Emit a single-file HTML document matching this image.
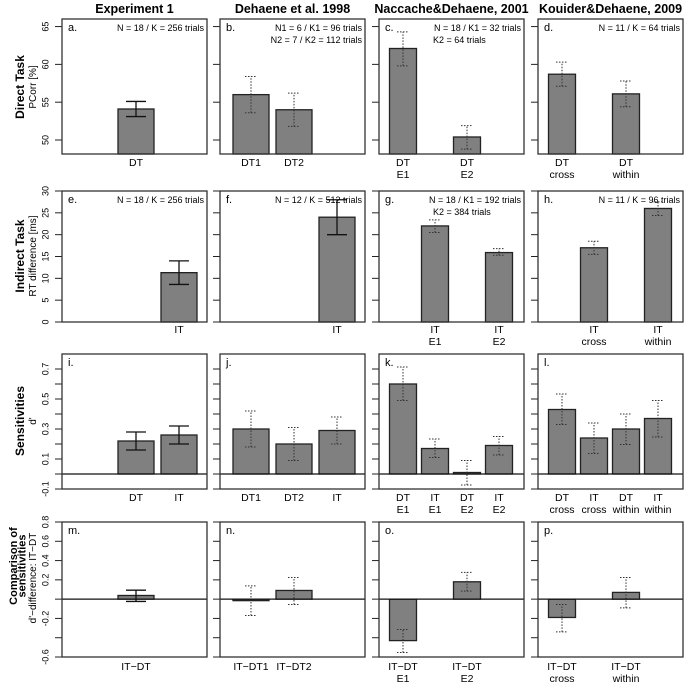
<!DOCTYPE html>
<html><head><meta charset="utf-8"><style>
html,body{margin:0;padding:0;background:#fff;}
svg{display:block;font-family:"Liberation Sans",Arial,sans-serif;}
</style></head><body>
<svg id="fig" width="684" height="682" viewBox="0 0 684 682"></svg>
<script>
// ---- data (top level) ----
const colTitles = ["Experiment 1","Dehaene et al. 1998","Naccache&Dehaene, 2001","Kouider&Dehaene, 2009"];
const rowTitles = [["Direct Task"],["Indirect Task"],["Sensitivities"],["Comparison of","sensitivities"]];
const axisTitles = ["PCorr [%]","RT difference [ms]","d'","d'\u2212difference: IT\u2212DT"];
const row1Ticks = [50,55,60,65];
const row1TickLabels = ["50","55","60","65"];
const row2Ticks = [0,5,10,15,20,25,30];
const row2TickLabels = ["0","5","10","15","20","25","30"];
const row3Ticks = [-0.1,0,0.1,0.2,0.3,0.4,0.5,0.6,0.7];
const row3TickLabels = ["-0.1","","0.1","","0.3","","0.5","","0.7"];
const row4Ticks = [-0.6,-0.4,-0.2,0,0.2,0.4,0.6,0.8];
const row4TickLabels = ["-0.6","","-0.2","","0.2","0.4","0.6","0.8"];

// panel a
const aCats=[["DT"]], aVals=[54.1], aLo=[53.1], aHi=[55.1];
// panel b
const bCats=[["DT1"],["DT2"]], bVals=[56.0,54.0], bLo=[53.6,51.8], bHi=[58.4,56.2];
// panel c
const cCats=[["DT","E1"],["DT","E2"]], cVals=[62.1,50.4], cLo=[59.8,48.8], cHi=[64.3,51.9];
// panel d
const dCats=[["DT","cross"],["DT","within"]], dVals=[58.7,56.1], dLo=[57.1,54.4], dHi=[60.3,57.8];
// panel e
const eCats=[["IT"]], eVals=[11.3], eLo=[8.6], eHi=[14.0];
// panel f
const fCats=[["IT"]], fVals=[24.0], fLo=[20.0], fHi=[28.0];
// panel g
const gCats=[["IT","E1"],["IT","E2"]], gVals=[22.0,15.9], gLo=[20.5,15.3], gHi=[23.4,16.8];
// panel h
const hCats=[["IT","cross"],["IT","within"]], hVals=[17.0,26.0], hLo=[15.5,24.4], hHi=[18.5,27.5];
// panel i
const iCats=[["DT"],["IT"]], iVals=[0.22,0.26], iLo=[0.16,0.20], iHi=[0.28,0.32];
// panel j
const jCats=[["DT1"],["DT2"],["IT"]], jVals=[0.30,0.20,0.29], jLo=[0.18,0.09,0.20], jHi=[0.42,0.31,0.38];
// panel k
const kCats=[["DT","E1"],["IT","E1"],["DT","E2"],["IT","E2"]], kVals=[0.60,0.17,0.01,0.19], kLo=[0.49,0.11,-0.073,0.127], kHi=[0.713,0.233,0.09,0.25];
// panel l
const lCats=[["DT","cross"],["IT","cross"],["DT","within"],["IT","within"]], lVals=[0.43,0.24,0.30,0.37], lLo=[0.33,0.137,0.197,0.247], lHi=[0.533,0.34,0.40,0.49];
// panel m
const mCats=[["IT\u2212DT"]], mVals=[0.038], mLo=[-0.024], mHi=[0.093];
// panel n
const nCats=[["IT\u2212DT1"],["IT\u2212DT2"]], nVals=[-0.01,0.09], nLo=[-0.17,-0.055], nHi=[0.138,0.225];
// panel o
const oCats=[["IT\u2212DT","E1"],["IT\u2212DT","E2"]], oVals=[-0.43,0.18], oLo=[-0.553,0.083], oHi=[-0.315,0.277];
// panel p
const pCats=[["IT\u2212DT","cross"],["IT\u2212DT","within"]], pVals=[-0.19,0.07], pLo=[-0.34,-0.09], pHi=[-0.055,0.225];

const notes = {a:["N = 18 / K = 256 trials"], b:["N1 = 6 / K1 = 96 trials","N2 = 7 / K2 = 112 trials"],
 c:["N = 18 / K1 = 32 trials","K2 = 64 trials"], d:["N = 11 / K = 64 trials"],
 e:["N = 18 / K = 256 trials"], f:["N = 12 / K = 512 trials"],
 g:["N = 18 / K1 = 192 trials","K2 = 384 trials"], h:["N = 11 / K = 96 trials"]};

// ---- layout ----
const NS="http://www.w3.org/2000/svg";
const svg=document.getElementById('fig');
function mk(tag,attrs,parent){const e=document.createElementNS(NS,tag);for(const k in attrs)e.setAttribute(k,attrs[k]);(parent||svg).appendChild(e);return e;}
const colX=[62,220,379,538], PW=145;
const rows=[
 {top:19,bot:154,min:48.15,max:66,ticks:row1Ticks,labels:row1TickLabels,zero:false,labY:163,tY:87,aY:87},
 {top:191,bot:322,min:0,max:30,ticks:row2Ticks,labels:row2TickLabels,zero:false,labY:330,tY:256,aY:256},
 {top:354,bot:489,min:-0.1,max:0.8,ticks:row3Ticks,labels:row3TickLabels,zero:true,labY:498,tY:421,aY:421},
 {top:522,bot:657,min:-0.6,max:0.8,ticks:row4Ticks,labels:row4TickLabels,zero:true,labY:667,tY:566,aY:578}
];
const slots3=[31,74,117], slots4=[24,56,88,120];
const panels=[
 ['a',0,0,aCats,aVals,aLo,aHi,[1],true],
 ['b',0,1,bCats,bVals,bLo,bHi,[0,1],false],
 ['c',0,2,cCats,cVals,cLo,cHi,[0,2],false],
 ['d',0,3,dCats,dVals,dLo,dHi,[0,2],false],
 ['e',1,0,eCats,eVals,eLo,eHi,[2],true],
 ['f',1,1,fCats,fVals,fLo,fHi,[2],true],
 ['g',1,2,gCats,gVals,gLo,gHi,[1,3],false],
 ['h',1,3,hCats,hVals,hLo,hHi,[1,3],false],
 ['i',2,0,iCats,iVals,iLo,iHi,[1,2],true],
 ['j',2,1,jCats,jVals,jLo,jHi,[0,1,2],false],
 ['k',2,2,kCats,kVals,kLo,kHi,[0,1,2,3],false],
 ['l',2,3,lCats,lVals,lLo,lHi,[0,1,2,3],false],
 ['m',3,0,mCats,mVals,mLo,mHi,[1],true],
 ['n',3,1,nCats,nVals,nLo,nHi,[0,1],false],
 ['o',3,2,oCats,oVals,oLo,oHi,[0,2],false],
 ['p',3,3,pCats,pVals,pLo,pHi,[0,2],false]
];

colTitles.forEach((t,c)=>{
 const e=mk('text',{x:colX[c]+PW/2,y:13,'text-anchor':'middle','font-size':'12.5','font-weight':'bold'});
 e.textContent=t;
 
 
});
rows.forEach((r,ri)=>{
 const cy=r.tY;
 const lines=rowTitles[ri];
 lines.forEach((ln,li)=>{
  const x = lines.length===1?24:(17+li*8.5);
  const e=mk('text',{x:x,y:cy,'text-anchor':'middle','font-size':lines.length===1?'12':'11','font-weight':'bold',transform:`rotate(-90 ${x} ${cy})`});
  e.textContent=ln;
  
  
 });
 const ax=36, ay=r.aY;
 const at=mk('text',{x:ax,y:ay,'text-anchor':'middle','font-size':'10',transform:`rotate(-90 ${ax} ${ay})`});
 at.textContent=axisTitles[ri];
 
 
});

panels.forEach(p=>{
 const [id,ri,ci,cats,vals,lo,hi,slotIdx,solid]=p;
 const r=rows[ri], L=colX[ci];
 const y=v=>r.bot-(v-r.min)/(r.max-r.min)*(r.bot-r.top);
 const g=mk('g',{});
 
 
 r.ticks.forEach((t,ti)=>{
  const ty=y(t);
  mk('line',{x1:L-7,x2:L,y1:ty,y2:ty,stroke:'#222','stroke-width':1},g);
  if(ci===0 && r.labels[ti]!==''){
   const tl=mk('text',{x:46,y:ty,'text-anchor':'middle','font-size':'9','dominant-baseline':'middle',transform:`rotate(-90 46 ${ty})`},g);
   tl.textContent=r.labels[ti];
   
   
  }
 });
 const slots = ci>=2?slots4:slots3;
 const bw = ci>=2?27:36;
 const zeroV = r.zero?0:r.min;
 vals.forEach((v,k)=>{
  const cx=L+slots[slotIdx[k]];
  const y0=y(zeroV), yv=y(v);
  const b=mk('rect',{x:cx-bw/2,y:Math.min(y0,yv),width:bw,height:Math.max(Math.abs(y0-yv),1.5),fill:'#808080',stroke:'#222','stroke-width':1.3},g);
  
  
  const dash = solid?null:'1.5,1.5';
  const cw = solid?10:6;
  const sw = solid?1.3:1;
  const col = solid?'#111':'#333';
  const eg=mk('g',{stroke:col,'stroke-width':sw,'stroke-dasharray':dash||'none'},g);
  
  
  mk('line',{x1:cx,x2:cx,y1:y(lo[k]),y2:y(hi[k])},eg);
  mk('line',{x1:cx-cw,x2:cx+cw,y1:y(lo[k]),y2:y(lo[k])},eg);
  mk('line',{x1:cx-cw,x2:cx+cw,y1:y(hi[k]),y2:y(hi[k])},eg);
  cats[k].forEach((ln,li)=>{
   const t=mk('text',{x:cx,y:r.labY+li*12,'text-anchor':'middle','font-size':'10.5','dominant-baseline':'middle'},g);
   t.textContent=ln;
   
   
  });
 });
 if(r.zero){ mk('line',{x1:L,x2:L+PW,y1:y(0),y2:y(0),stroke:'#111','stroke-width':1.2},g); }
 const fr=mk('rect',{x:L,y:r.top,width:PW,height:r.bot-r.top,fill:'none',stroke:'#333','stroke-width':1.3},g);
 
 
 const pl=mk('text',{x:L+6,y:r.top+12,'font-size':'11'},g);
 pl.textContent=id+'.';
 
 
 if(notes[id]){
  notes[id].forEach((ln,li)=>{
   const nt=mk('text',{x:(li===1&&(id==='c'||id==='g'))?L+54:L+PW-3,y:r.top+12+li*12,'font-size':'9','text-anchor':(li===1&&(id==='c'||id==='g'))?'start':'end'},g);
   nt.textContent=ln;
   
   
  });
 }
});
</script>
</body></html>
